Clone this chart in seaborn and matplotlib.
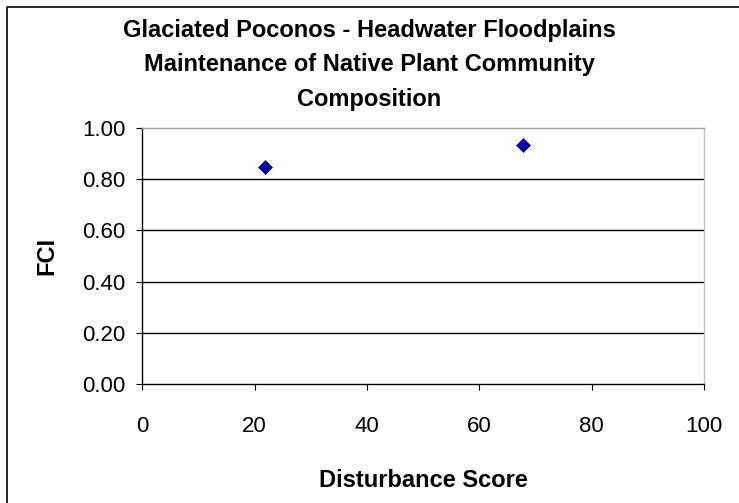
import numpy as np
import pandas as pd
import seaborn as sns
import matplotlib.pyplot as plt
from matplotlib.lines import Line2D

# data
disturbance = [21.8, 67.8]
fci = [0.85, 0.935]
x_ticks = [0, 20, 40, 60, 80, 100]
y_ticks = [0.0, 0.2, 0.4, 0.6, 0.8, 1.0]
title = 'Glaciated Poconos - Headwater Floodplains\nMaintenance of Native Plant Community\nComposition'

sns.set_style('white')
plt.rcParams['font.family'] = ['Liberation Sans', 'DejaVu Sans']
plt.rcParams['text.color'] = 'black'
plt.rcParams['axes.labelcolor'] = 'black'
plt.rcParams['xtick.color'] = 'black'
plt.rcParams['ytick.color'] = 'black'

df = pd.DataFrame({'Disturbance Score': disturbance, 'FCI': fci})

fig = plt.figure(figsize=(7.39, 5.03), dpi=100)
# plot area: x 142..704 px, y 128..384 px
ax = fig.add_axes([0.1926, 0.2372, 0.760, 0.5077])

sns.scatterplot(data=df, x='Disturbance Score', y='FCI', marker='D', s=50,
                color='#000099', edgecolor='#000099', linewidth=0.5, ax=ax, zorder=3)

ax.set_xlim(0, 100)
ax.set_ylim(0, 1)
ax.set_xticks(x_ticks)
ax.set_yticks(y_ticks)
ax.set_yticklabels(['%.2f' % v for v in y_ticks])
for v in y_ticks[1:-1]:
    ax.axhline(v, color='black', lw=1, zorder=1)

ax.spines['top'].set_color('#a0a0a0')
ax.spines['right'].set_color('#c0c0c0')
ax.spines['left'].set_color('black')
ax.spines['bottom'].set_color('black')
for s in ['left', 'bottom', 'right', 'top']:
    ax.spines[s].set_linewidth(1)
ax.tick_params(axis='both', direction='out', length=4.5, width=0.8, color='black',
               labelsize=16, left=True, bottom=True)
ax.tick_params(axis='x', pad=19)
ax.tick_params(axis='y', pad=7.5)

ax.set_xlabel('Disturbance Score', fontsize=17, fontweight='bold', labelpad=23)
ax.set_ylabel('FCI', fontsize=17, fontweight='bold', labelpad=17)

fig.text(0.5, 0.963, title, ha='center', va='top', fontsize=17, fontweight='bold',
         linespacing=1.65)

# outer chart border (only left and top are inside the image)
fig.lines.append(Line2D([7 / 739, 7 / 739, 1], [0, 1 - 7 / 503, 1 - 7 / 503],
                        transform=fig.transFigure, color='black', lw=1.2))

fig.savefig('out.png', dpi=100)
